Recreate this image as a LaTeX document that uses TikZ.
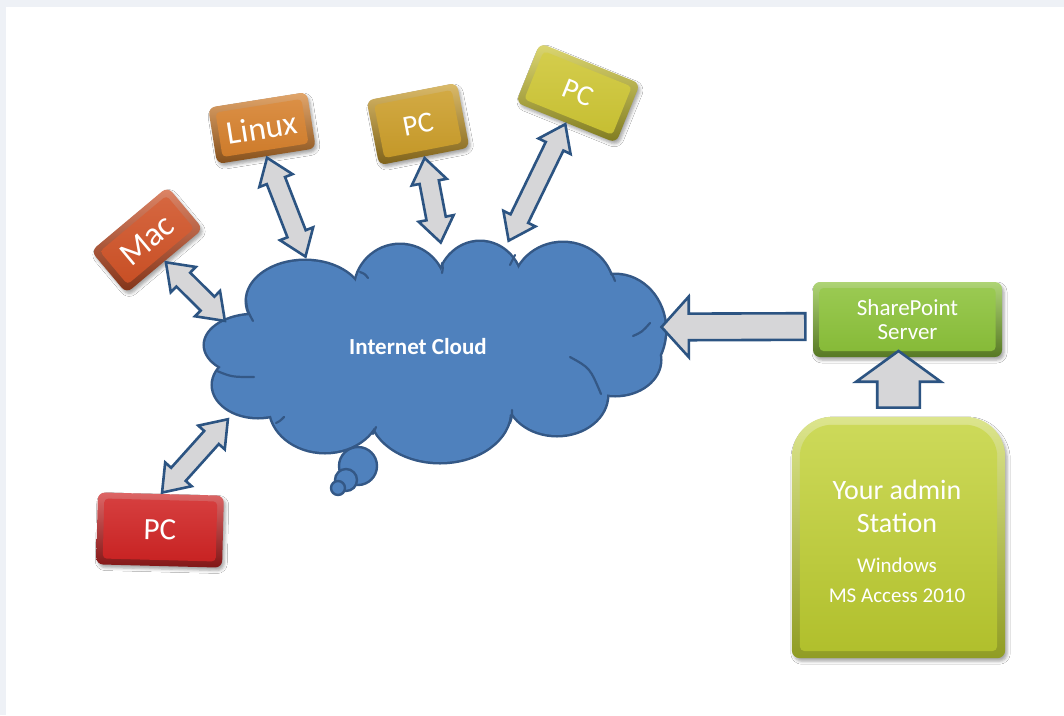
\documentclass[tikz,border=0pt]{standalone}
\usepackage{fontspec}
\setmainfont{Carlito}
\usetikzlibrary{shapes.arrows,calc,shadows.blur}

\definecolor{bgframe}{RGB}{238,241,246}
\definecolor{cloudfill}{RGB}{79,129,189}
\definecolor{cloudline}{RGB}{52,88,134}
\definecolor{arrline}{RGB}{44,84,130}
\definecolor{arrfill}{RGB}{214,214,216}
\definecolor{macc}{RGB}{208,82,38}
\definecolor{linuxc}{RGB}{214,128,44}
\definecolor{goldc}{RGB}{204,158,42}
\definecolor{yelc}{RGB}{206,198,52}
\definecolor{redc}{RGB}{208,36,36}
\definecolor{spc}{RGB}{140,194,58}
\definecolor{admc}{RGB}{192,208,48}

\newcommand\fs[2]{\fontsize{#1}{#2}\selectfont}

\tikzset{
  boxouter/.style={rounded corners=7pt, inner sep=0pt,
    blur shadow={shadow xshift=2pt, shadow yshift=-3pt, shadow blur radius=3pt, shadow opacity=35}},
  boxinner/.style={rounded corners=4pt, inner sep=0pt, text=white},
  dblarr/.style={double arrow, draw=arrline, fill=arrfill, line width=2.6pt,
    inner xsep=0pt, inner ysep=8.5pt, double arrow head extend=8pt, double arrow tip angle=72},
  lftarr/.style={single arrow, draw=arrline, fill=arrfill, line width=2.6pt,
    inner xsep=0pt, inner ysep=12pt, single arrow head extend=17pt, single arrow tip angle=96},
  uparr/.style={single arrow, draw=arrline, fill=arrfill, line width=2.6pt,
    inner xsep=0pt, inner ysep=20pt, single arrow head extend=21pt, single arrow tip angle=108},
  cloudedge/.style={draw=cloudline, line width=5pt},
  clouddeco/.style={draw=cloudline, line width=2.2pt, line cap=round},
  bubble/.style={fill=cloudfill, draw=cloudline, line width=2.4pt},
}

% optional opts, name, x, y, angle, w, h, color, text
\newcommand\devbox[9][]{%
  \node[boxouter, rotate=#5, minimum width=#6, minimum height=#7,
        top color=#8!70!white, bottom color=#8!62!black] (#2) at (#3,#4) {};
  \node[boxinner, rotate=#5, minimum width=#6-13, minimum height=#7-12,
        top color=#8!88!white, bottom color=#8!96!black, #1] (#2-face) at (#3,#4) {#9};
}

% style, from, to
\newcommand\barrow[3]{%
  \path let \p1=(#2), \p2=(#3), \n1={atan2(\y2-\y1,\x2-\x1)},
    \n2={veclen(\x2-\x1,\y2-\y1)} in
    node[#1, rotate=\n1, minimum height=\n2-3] at ($(#2)!0.5!(#3)$) {};
}

\begin{document}
\begin{tikzpicture}[x=1pt, y=-1pt]
\useasboundingbox (0,0) rectangle (1064,715);
\fill[bgframe] (0,0) rectangle (1064,715);
\fill[white] (6,7) rectangle (1064,715);

% ---------- thought bubbles ----------
\filldraw[bubble] (358,466) circle[radius=19];
\filldraw[bubble] (346,480) circle[radius=11];
\filldraw[bubble] (338,488) circle[radius=7];

% ---------- cloud ----------
\def\lobes{255/345/50/30, 305/301/58/40, 400/290/45/45, 480/287/42/45,
  563/290/50/47, 615/330/50/55, 615/360/45/35, 557/395/50/40,
  440/411/70/51, 325/407/55/45, 258/385/45/32, 435/350/190/70}
\foreach \cx/\cy/\rx/\ry in \lobes
  \path[cloudedge] (\cx,\cy) ellipse[x radius=\rx, y radius=\ry];
\foreach \cx/\cy/\rx/\ry in \lobes
  \fill[cloudfill] (\cx,\cy) ellipse[x radius=\rx, y radius=\ry];
\draw[clouddeco] (246,299) .. controls (247,310) .. (253,321);
\draw[clouddeco] (217,371) .. controls (232,377) .. (254,377);
\draw[clouddeco] (276,423) .. controls (280,421) .. (284,417);
\draw[clouddeco] (373,434) .. controls (374,431) .. (376,427);
\draw[clouddeco] (510,423) .. controls (512,417) .. (512,410);
\draw[clouddeco] (570,357) .. controls (590,368) .. (601,394);
\draw[clouddeco] (633,336) .. controls (642,332) .. (650,323);
\draw[clouddeco] (360,272) .. controls (365,274) .. (368,278);
\draw[clouddeco] (442,263) .. controls (443,268) .. (442,273);
\draw[clouddeco] (515,255) .. controls (512,260) .. (510,265);
\draw[clouddeco] (611,273) .. controls (613,276) .. (615,281);
\node[text=white, font=\fs{23}{27}\bfseries] (cloudtxt) at (418,347) {Internet Cloud};

\coordinate (cMac) at (226,322);
\coordinate (cLinux) at (306,258);
\coordinate (cPCg) at (441,244);
\coordinate (cPCy) at (508,242);
\coordinate (cPCr) at (229,418);
\coordinate (cSP) at (666,327);

% ---------- devices ----------
\devbox[font=\fs{34}{34}]{mac}{147}{240}{40}{100}{55}{macc}{Mac}
\devbox[font=\fs{33}{33}]{linux}{262}{128}{9}{100}{57}{linuxc}{Linux}
\devbox[font=\fs{29}{29}]{pcg}{418}{124}{11}{92}{66}{goldc}{PC}
\devbox[font=\fs{29}{29}]{pcy}{578}{93}{-22}{108}{64}{yelc}{PC}
\devbox[font=\fs{31}{31}]{pcr}{160}{530}{-1.5}{126}{72}{redc}{PC}
\devbox[font=\fs{23}{24}, align=center]{sp}{907.5}{319.5}{0}{189}{75}{spc}{SharePoint\\Server}

% ---------- admin station ----------
\node[minimum width=213, minimum height=241, inner sep=0pt] (admin) at (898.5,537.5) {};
\node[minimum width=197, minimum height=226, inner sep=0pt] (adminface) at (898.5,538) {};
\path[top color=admc!55!white, bottom color=admc!75!black,
      blur shadow={shadow xshift=2pt, shadow yshift=-3pt, shadow blur radius=3pt, shadow opacity=35}]
  (admin.south) [rounded corners=8pt] -- (admin.south east) -- (admin.east)
  [rounded corners=40pt] -- (admin.north east) -- (admin.north) -- (admin.north west) -- (admin.west)
  [rounded corners=8pt] -- (admin.south west) -- cycle;
\path[top color=admc!80!white, bottom color=admc!92!black]
  (adminface.south) [rounded corners=5pt] -- (adminface.south east) -- (adminface.east)
  [rounded corners=32pt] -- (adminface.north east) -- (adminface.north) -- (adminface.north west) -- (adminface.west)
  [rounded corners=5pt] -- (adminface.south west) -- cycle;
\node[text=white, align=center, font=\fs{28}{33}] (admintitle) at (897,506) {Your admin\\Station};
\node[text=white, align=center, font=\fs{21}{30}] (adminsub) at (897,580) {Windows\\MS Access 2010};

% ---------- arrows ----------
\barrow{dblarr}{mac.south}{cMac}
\barrow{dblarr}{linux.south}{cLinux}
\barrow{dblarr}{pcg.south}{cPCg}
\barrow{dblarr}{pcy.south}{cPCy}
\barrow{dblarr}{pcr.north}{cPCr}
\barrow{lftarr}{[yshift=-7pt]sp.west}{cSP}
\coordinate (spb) at (sp.south -| admin.north);
\barrow{uparr}{admin.north}{spb}
\end{tikzpicture}
\end{document}
